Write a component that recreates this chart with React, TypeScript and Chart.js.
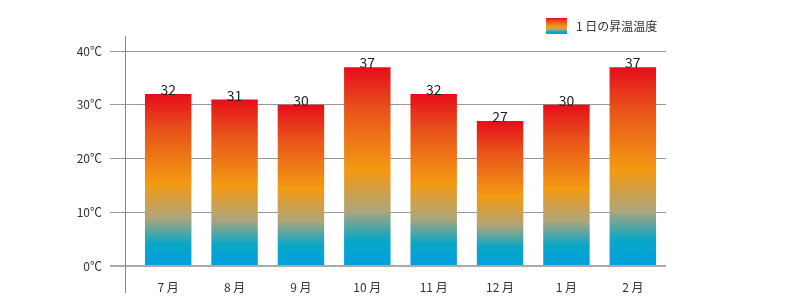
import React, { useEffect, useRef } from "react";
import { Chart, registerables } from "chart.js";

Chart.register(...registerables);

const categories = ["7 月", "8 月", "9 月", "10 月", "11 月", "12 月", "1 月", "2 月"];
const risingTemps = [32, 31, 30, 37, 32, 27, 30, 37];
const seriesLabel = "1 日の昇温温度";
const yTicks = [0, 10, 20, 30, 40];

const FONT = "'Noto Sans CJK JP', 'Noto Sans', sans-serif";

function makeGradient(ctx: CanvasRenderingContext2D, top: number, bottom: number) {
  const g = ctx.createLinearGradient(0, top, 0, bottom);
  g.addColorStop(0, "#e60d1b");
  g.addColorStop(0.22, "#e8551a");
  g.addColorStop(0.52, "#f39a12");
  g.addColorStop(0.72, "#b0a57a");
  g.addColorStop(0.87, "#0aa6c6");
  g.addColorStop(1, "#00a0df");
  return g;
}

const decorPlugin = {
  id: "decor",
  afterDatasetsDraw(chart: any) {
    const { ctx, chartArea } = chart;
    const meta = chart.getDatasetMeta(0);
    ctx.save();
    ctx.fillStyle = "#222";
    ctx.font = `14px ${FONT}`;
    ctx.textAlign = "center";
    ctx.textBaseline = "bottom";
    meta.data.forEach((bar: any, i: number) => {
      ctx.fillText(String(risingTemps[i]), bar.x, bar.y + 3);
    });
    ctx.restore();
  },
  afterDraw(chart: any) {
    const { ctx, chartArea } = chart;
    ctx.save();
    // vertical axis line
    ctx.strokeStyle = "#888";
    ctx.lineWidth = 1;
    ctx.beginPath();
    ctx.moveTo(chartArea.left - 10 + 0.5, chartArea.top - 15);
    ctx.lineTo(chartArea.left - 10 + 0.5, chartArea.bottom + 27);
    ctx.stroke();
    // legend
    const bx = 546, by = 18, bw = 21, bh = 16;
    ctx.fillStyle = makeGradient(ctx, by, by + bh);
    ctx.fillRect(bx, by, bw, bh);
    ctx.fillStyle = "#333";
    ctx.font = `12px ${FONT}`;
    ctx.textAlign = "left";
    ctx.textBaseline = "middle";
    ctx.fillText(seriesLabel, bx + bw + 9, by + bh / 2);
    ctx.restore();
  },
};

export default function App() {
  const ref = useRef<HTMLCanvasElement | null>(null);
  useEffect(() => {
    document.body.style.margin = "0";
    const chart = new Chart(ref.current as HTMLCanvasElement, {
      type: "bar",
      data: {
        labels: categories,
        datasets: [
          {
            label: seriesLabel,
            data: risingTemps,
            backgroundColor: (c: any) => {
              const chart = c.chart;
              if (!chart.chartArea || c.raw == null) return "#f39a12";
              const y = chart.scales.y;
              return makeGradient(chart.ctx, y.getPixelForValue(c.raw), y.getPixelForValue(0));
            },
            borderWidth: 0,
            categoryPercentage: 1,
            barPercentage: 0.7,
          },
        ],
      },
      options: {
        animation: false,
        responsive: false,
        layout: { padding: { top: 51, left: 0, right: 134, bottom: 0 } },
        plugins: { legend: { display: false }, tooltip: { enabled: false } },
        scales: {
          x: {
            grid: { display: false },
            border: { display: false },
            ticks: { color: "#333", font: { family: FONT, size: 12 }, padding: 6 },
            afterFit: (s: any) => { s.height = 42; },
          },
          y: {
            min: 0,
            max: 40,
            z: 1,
            afterBuildTicks: (s: any) => { s.ticks = yTicks.map((v) => ({ value: v })); },
            grid: {
              color: (c: any) => (c.tick && c.tick.value === 0 ? "#aaa" : "#999"),
              lineWidth: (c: any) => (c.tick && c.tick.value === 0 ? 2 : 1),
              tickLength: 25,
              tickColor: (c: any) => (c.tick && c.tick.value === 0 ? "#aaa" : "#999"),
            },
            border: { display: false },
            ticks: {
              color: "#333",
              font: { family: FONT, size: 12 },
              padding: 8,
              callback: (v: any) => `${v}℃`,
            },
            afterFit: (s: any) => { s.width = 135; },
          },
        },
      },
      plugins: [decorPlugin],
    });
    return () => chart.destroy();
  }, []);
  return (
    <div style={{ position: "absolute", left: 0, top: 0, width: 800, height: 308 }}>
      <canvas ref={ref} width={800} height={308} />
    </div>
  );
}
